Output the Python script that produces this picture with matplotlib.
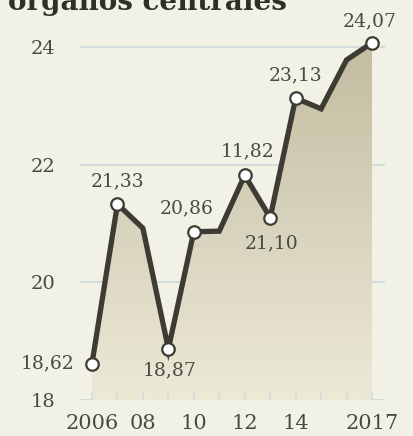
import matplotlib
matplotlib.use("Agg")
import matplotlib.pyplot as plt
import numpy as np
from matplotlib.colors import LinearSegmentedColormap

years = [2006, 2007, 2008, 2009, 2010, 2011, 2012, 2013, 2014, 2015, 2016, 2017]
values = [18.62, 21.33, 20.92, 18.87, 20.86, 20.87, 21.82, 21.10, 23.13, 22.95, 23.78, 24.07]
marked = [2006, 2007, 2009, 2010, 2012, 2013, 2014, 2017]
mark_labels = ["18,62", "21,33", "18,87", "20,86", "11,82", "21,10", "23,13", "24,07"]
xticks = [2006, 2008, 2010, 2012, 2014, 2017]
xtick_labels = ["2006", "08", "10", "12", "14", "2017"]
yticks = [18, 20, 22, 24]

BG = "#f2f1e6"
LINE = "#3d3b33"
TXT = "#4b4a42"
GRID = "#d2dcdc"

W, H = 414, 436
fig = plt.figure(figsize=(W / 100, H / 100), dpi=100, facecolor=BG)
ax = fig.add_axes([80 / W, (H - 400) / H, 305 / W, 370 / H])
ax.set_facecolor(BG)

px_yr = (372 - 92) / 11
px_unit = (400 - 47) / 6
ax.set_xlim(2006 - 12 / px_yr, 2017 + 13 / px_yr)
ax.set_ylim(18, 18 + 370 / px_unit)

for s in ax.spines.values():
    s.set_visible(False)

for y in yticks:
    ax.axhline(y, color=GRID, lw=1.5, zorder=1)

# gradient fill under the line
cmap = LinearSegmentedColormap.from_list("f", ["#ece9d7", "#c3bca1"])
grad = np.linspace(0, 1, 256).reshape(-1, 1)
im = ax.imshow(grad, extent=[years[0], years[-1], 18, max(values)], origin="lower",
               aspect="auto", cmap=cmap, zorder=2)
poly = ax.fill_between(years, values, 18, color="none", lw=0)
path = poly.get_paths()[0]
im.set_clip_path(path, transform=ax.transData)

# small year ticks on the baseline
for yr in years:
    ax.plot([yr, yr], [18, 18 + 7 / px_unit], color=GRID, lw=1.2, zorder=3)

ax.plot(years, values, color=LINE, lw=3.8, solid_joinstyle="miter", zorder=4)
mv = [values[years.index(y)] for y in marked]
ax.plot(marked, mv, "o", ms=9, mfc="white", mec=LINE, mew=1.6, zorder=5)

fs = 13.5
offsets = {
    "18,62": (-44, 0),
    "21,33": (0, 23),
    "18,87": (1, -22),
    "20,86": (-7, 23),
    "11,82": (3, 24),
    "21,10": (1, -26),
    "23,13": (0, 23),
    "24,07": (-2, 22),
}
for x, v, lab in zip(marked, mv, mark_labels):
    dx, dy = offsets[lab]
    ax.annotate(lab, (x, v), xytext=(dx * 0.72, dy * 0.72), textcoords="offset points",
                ha="center", va="center", fontsize=fs, color=TXT, family="DejaVu Serif",
                annotation_clip=False, zorder=6)

ax.set_yticks(yticks)
ax.set_yticklabels([str(y) for y in yticks], fontsize=14, color=TXT, family="DejaVu Serif")
ax.set_xticks(xticks)
ax.set_xticklabels(xtick_labels, fontsize=15, color=TXT, family="DejaVu Serif")
ax.tick_params(axis="both", length=0)
ax.tick_params(axis="y", pad=18)
ax.tick_params(axis="x", pad=10)

fig.text(8 / W, 1 - 10 / H, "órganos centrales", fontsize=20, fontweight="bold",
         family="DejaVu Serif", color="#2f2e29", ha="left", va="baseline")

fig.savefig("out.png", dpi=100, facecolor=BG)
